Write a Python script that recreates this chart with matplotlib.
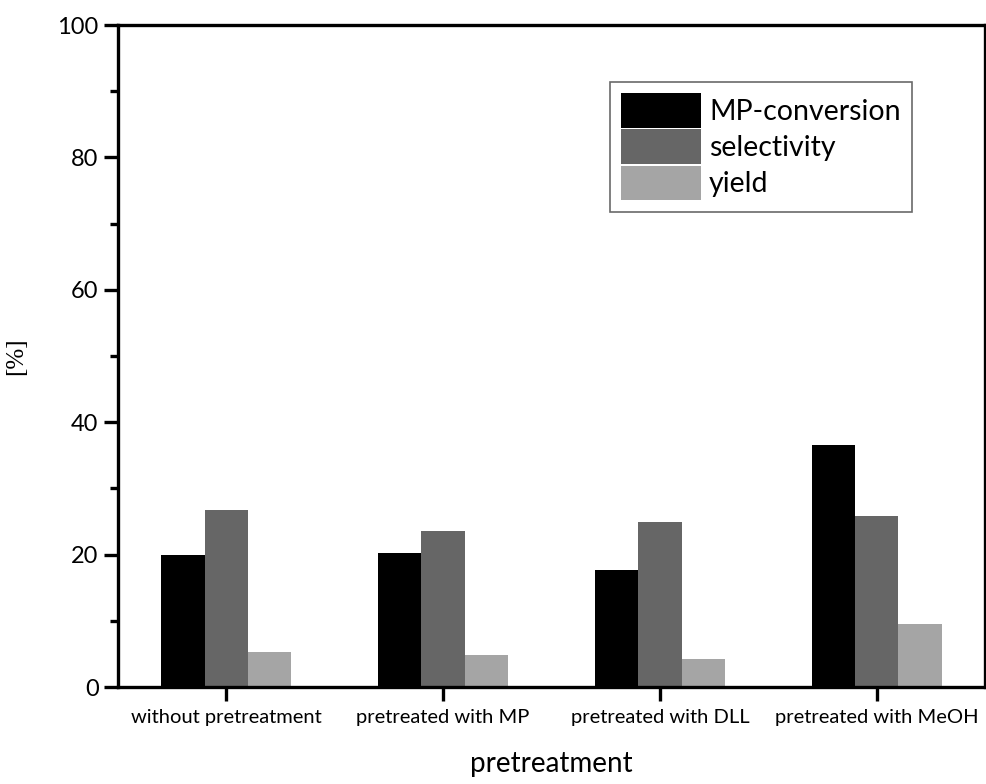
import numpy as np
import matplotlib
matplotlib.use('Agg')
import matplotlib.pyplot as plt

categories = ['without pretreatment', 'pretreated with MP', 'pretreated with DLL', 'pretreated with MeOH']
conversion = [20.0, 20.3, 17.6, 36.5]
selectivity = [26.8, 23.6, 24.9, 25.9]
yield_ = [5.3, 4.8, 4.3, 9.5]

plt.rcParams['font.family'] = ['Lato', 'DejaVu Sans']

fig = plt.figure(figsize=(9.87, 7.84), dpi=100)
ax = fig.add_axes([118/987, 1-687/784, (985-118)/987, (687-25)/784])

x = np.arange(len(categories))
w = 0.2
ax.bar(x - w, conversion, w, color='#000000', label='MP-conversion')
ax.bar(x, selectivity, w, color='#666666', label='selectivity')
ax.bar(x + w, yield_, w, color='#a5a5a5', label='yield')

ax.set_xlim(-0.5, 3.5)
ax.set_ylim(0, 100)
ax.set_xticks(x)
ax.set_xticklabels(categories, fontsize=14.5)
ax.set_yticks([0, 20, 40, 60, 80, 100])
ax.set_yticks([10, 30, 50, 70, 90], minor=True)
ax.tick_params(axis='y', labelsize=17, width=2.4, length=10, direction='out', pad=4)
ax.tick_params(axis='y', which='minor', width=2.4, length=6)
ax.tick_params(axis='x', width=2.4, length=10, direction='out', pad=6)
for s in ax.spines.values():
    s.set_linewidth(2.4)

ax.set_xlabel('pretreatment', fontsize=20, labelpad=18)
ax.set_ylabel('[%]', fontsize=18, family='Liberation Serif', labelpad=22)

leg = ax.legend(loc='upper right', bbox_to_anchor=(0.916, 0.914), borderaxespad=0,
                fontsize=20.5, frameon=True, fancybox=False, handlelength=2.8,
                handleheight=1.5, handletextpad=0.3, labelspacing=0.05,
                borderpad=0.4)
leg.get_frame().set_edgecolor('#444444')
leg.get_frame().set_linewidth(1.2)

fig.savefig('out.png', dpi=100)
